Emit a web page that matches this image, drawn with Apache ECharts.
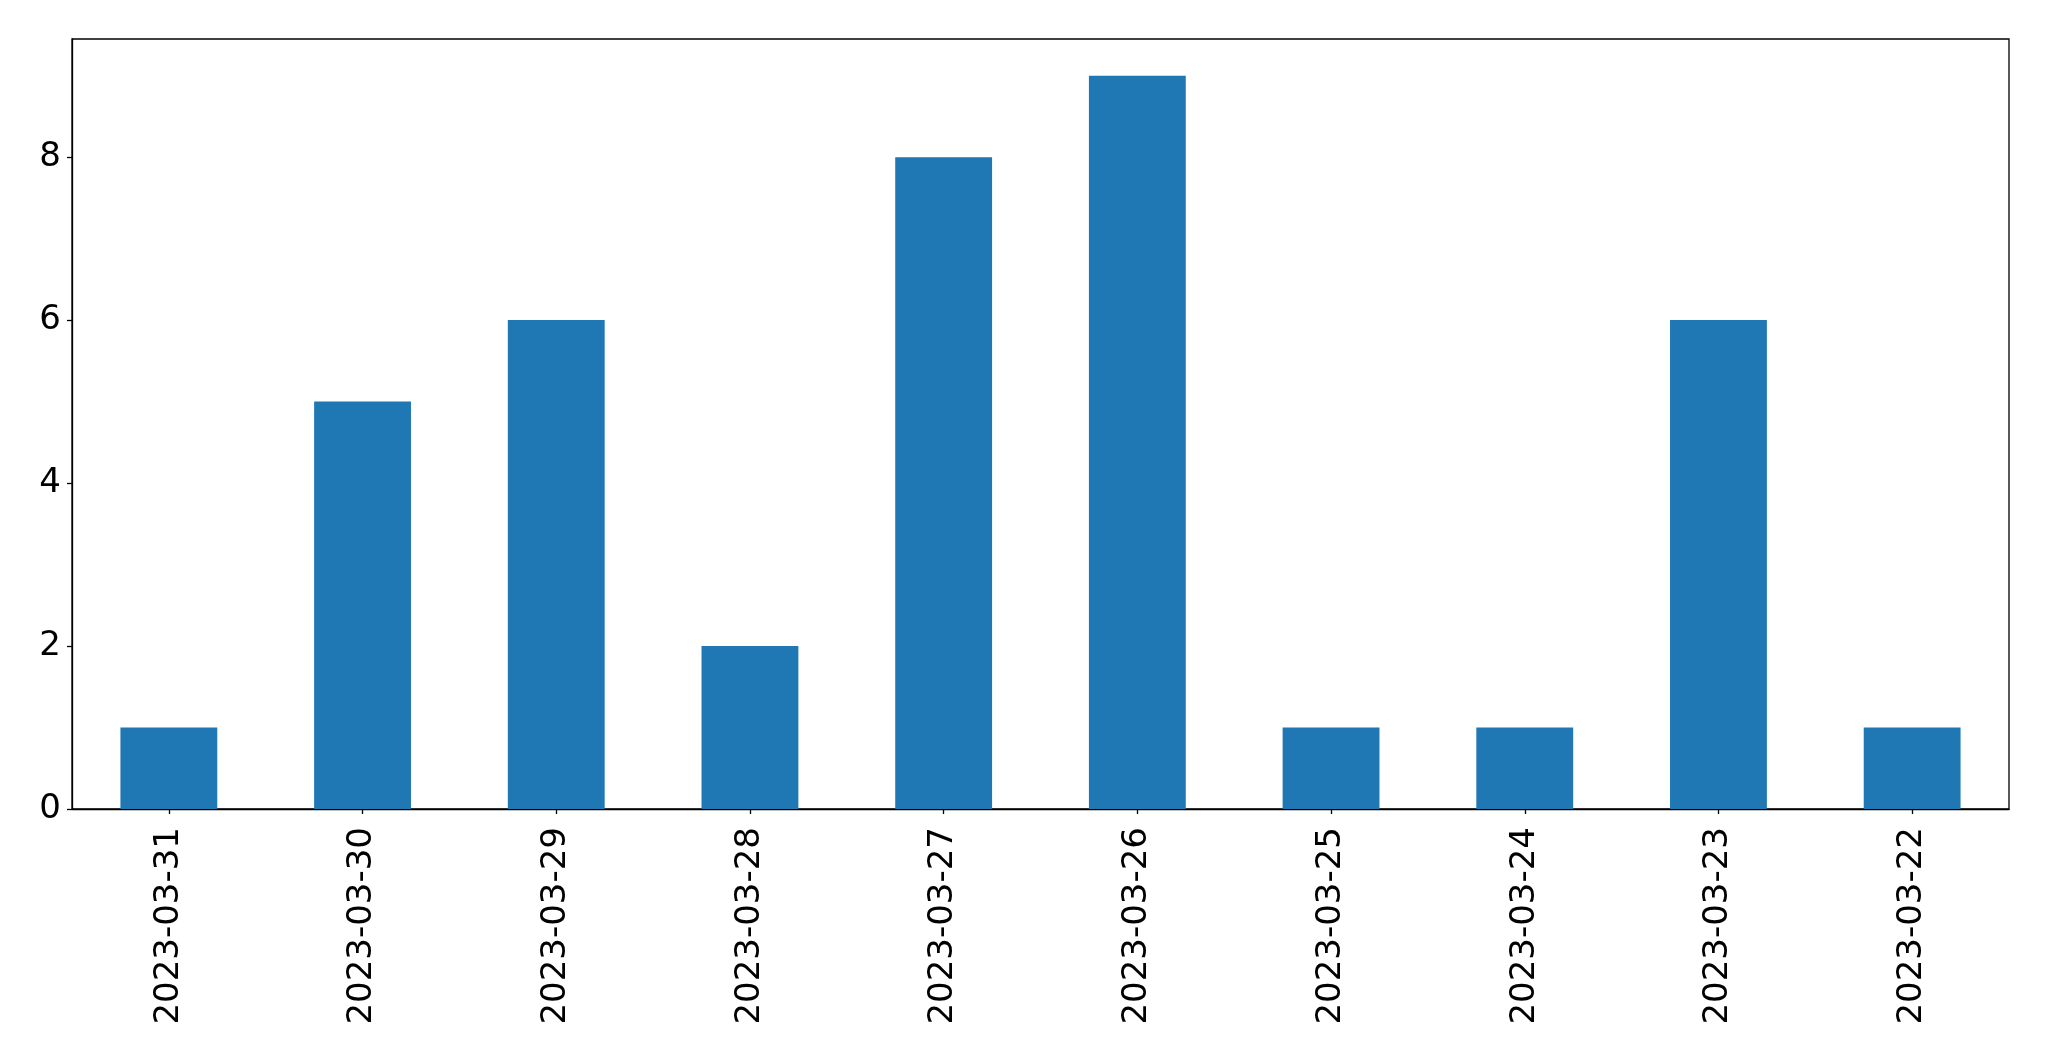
<!DOCTYPE html>
<html>
<head>
<meta charset="utf-8">
<script src="https://cdn.jsdelivr.net/npm/echarts@6/dist/echarts.min.js"></script>
<style>
html,body{margin:0;padding:0;background:#fff;}
#chart{width:2049px;height:1061px;}
</style>
</head>
<body>
<div id="chart"></div>
<script>
const categories = ['2023-03-31','2023-03-30','2023-03-29','2023-03-28','2023-03-27','2023-03-26','2023-03-25','2023-03-24','2023-03-23','2023-03-22'];
const values = [1, 5, 6, 2, 8, 9, 1, 1, 6, 1];
const yTicks = [0, 2, 4, 6, 8];

const chart = echarts.init(document.getElementById('chart'), null, {renderer: 'canvas'});
const font = 'DejaVu Sans';
chart.setOption({
  animation: false,
  backgroundColor: '#ffffff',
  grid: {
    left: 72, top: 39, width: 1937, height: 770,
    show: true, borderColor: '#000000', borderWidth: 1.3, backgroundColor: 'transparent'
  },
  xAxis: {
    type: 'category',
    data: categories,
    boundaryGap: true,
    axisLine: {show: true, lineStyle: {color: '#000000', width: 1.3}},
    axisTick: {show: true, alignWithLabel: true, length: 5, lineStyle: {color: '#000000', width: 1.3}},
    axisLabel: {
      show: true, rotate: 90, margin: 18, interval: 0,
      color: '#000000', fontFamily: font, fontSize: 34
    },
    splitLine: {show: false}
  },
  yAxis: {
    type: 'value',
    min: 0, max: 9.45, interval: 2,
    axisLine: {show: true, lineStyle: {color: '#000000', width: 1.3}},
    axisTick: {show: true, length: 5, lineStyle: {color: '#000000', width: 1.3},
      customValues: yTicks},
    axisLabel: {
      show: true, margin: 11,
      color: '#000000', fontFamily: font, fontSize: 34,
      customValues: yTicks
    },
    splitLine: {show: false}
  },
  series: [{
    type: 'bar',
    data: values,
    barWidth: '50%',
    itemStyle: {color: '#1f77b4'}
  }]
});
</script>
</body>
</html>
